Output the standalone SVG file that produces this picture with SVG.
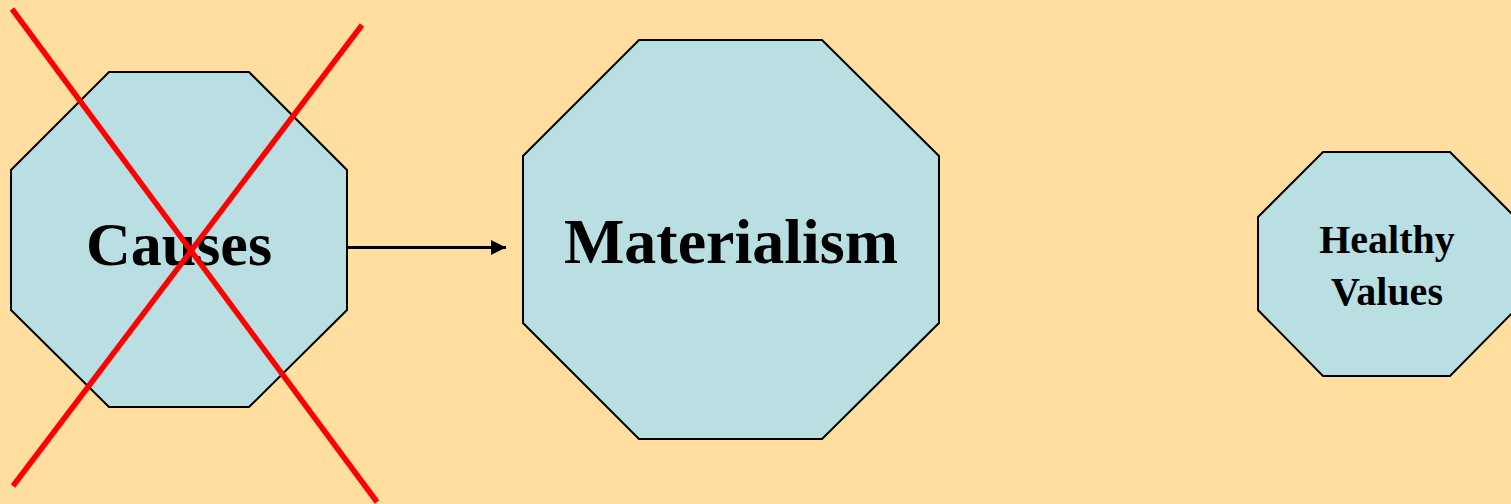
<svg xmlns="http://www.w3.org/2000/svg" width="1511" height="504" viewBox="0 0 1511 504">
  <style>
    .oct { fill: #B9DFE3; stroke: #000; stroke-width: 2; }
    .lbl { font-family: "Liberation Serif", "Times New Roman", serif; font-weight: bold; fill: #000; text-anchor: middle; }
    .cross { stroke: #FF0000; stroke-width: 5.5; stroke-linecap: butt; }
  </style>
  <defs>
    <marker id="arrow" markerWidth="5" markerHeight="5" refX="5" refY="2.5" orient="auto" markerUnits="strokeWidth">
      <path d="M0,0 L5,2.5 L0,5 Z" fill="#000"/>
    </marker>
  </defs>
  <rect x="0" y="0" width="1511" height="504" fill="#FFDE9F"/>
  <g id="node-causes">
    <polygon class="oct" points="109,72 249,72 347,170 347,310 249,407 109,407 11,310 11,170"/>
    <text class="lbl" x="179" y="265" font-size="62">Causes</text>
  </g>
  <g id="node-materialism">
    <polygon class="oct" points="639,40 822,40 939,156 939,323 822,439 639,439 523,323 523,156"/>
    <text class="lbl" x="731" y="263" font-size="64">Materialism</text>
  </g>
  <g id="node-healthy-values">
    <polygon class="oct" points="1323,152 1450,152 1515,217 1515,310 1450,376 1323,376 1258,310 1258,217"/>
    <text class="lbl" x="1387" y="253" font-size="40">Healthy</text>
    <text class="lbl" x="1387" y="305" font-size="40">Values</text>
  </g>
  <g id="connectors">
    <line x1="347" y1="247.5" x2="506" y2="247.5" stroke="#000" stroke-width="3" marker-end="url(#arrow)"/>
  </g>
  <g id="cross-out">
    <line class="cross" x1="12" y1="9" x2="377" y2="502"/>
    <line class="cross" x1="362" y1="25" x2="13" y2="486"/>
  </g>
</svg>
